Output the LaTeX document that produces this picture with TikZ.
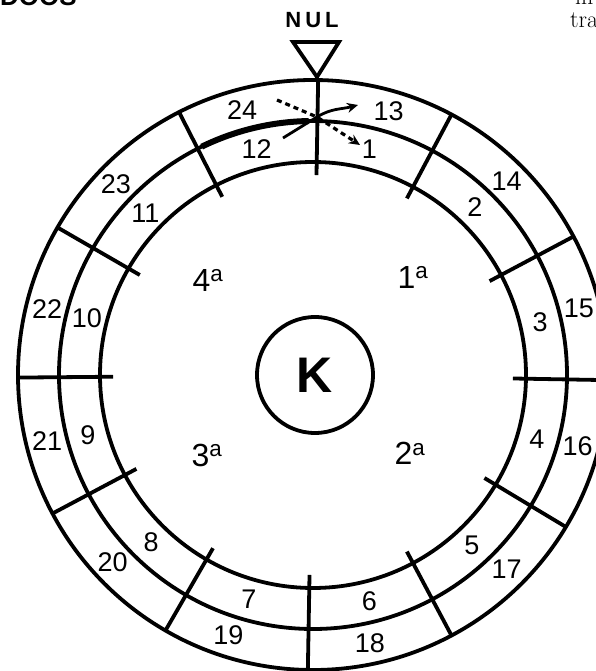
\documentclass[tikz,border=0pt]{standalone}
\usepackage{fontspec}
\setsansfont{Liberation Sans}
\usetikzlibrary{arrows.meta}

\begin{document}
\begin{tikzpicture}[>=Stealth,x=1pt,y=1pt,
  ring/.style={line width=3.8pt},
  num/.style={font=\sffamily\fontsize{27}{27}\selectfont},
  kwart/.style={font=\sffamily\fontsize{32}{32}\selectfont},
  pagina/.style={anchor=base west,inner sep=0pt,font=\fontsize{24}{24}\selectfont},
  pijl/.style={->,line width=2.8pt,>={Stealth[length=11pt,width=10pt]}},
  stippel/.style={->,line width=3.2pt,dash pattern=on 5pt off 4pt,>={Stealth[length=11pt,width=10pt]}}]
  \useasboundingbox (-313,-296) rectangle (283,375);
  \node[pagina,font=\sffamily\bfseries\fontsize{26}{26}\selectfont] (kop) at (-313,369) {DOOS};
  \node[pagina] (regel1) at (262,370) {in};
  \node[pagina] (regel2) at (257,347) {tra};
  \foreach \r in {213,254,295} \draw[ring] (0,0) circle (\r pt);
  \draw[line width=6pt] (116:254pt) arc (116:91:254pt);
  \foreach \a in {89,62,28,-1,-31,-62,-91,-120,-152,180.5,150,117} \draw[ring] (\a:200pt) -- (\a:295pt);
  \foreach \n/\a in {1/76,2/46,3/13,4/-16,5/-47,6/-76,7/-106,8/-134,9/-165,10/166,11/136,12/104}
    \node[num] (n\n) at (\a:233pt) {\n};
  \foreach \n/\a in {13/74,14/45,15/14,16/-15,17/-45,18/-78,19/-108,20/-137,21/-166,22/166,23/136,24/105}
    \node[num] (n\n) at (\a:274pt) {\n};
  \node[kwart] (q1) at (100,98) {1\textsuperscript{a}};
  \node[kwart] (q2) at (97,-78) {2\textsuperscript{a}};
  \node[kwart] (q3) at (-106,-80) {3\textsuperscript{a}};
  \node[kwart] (q4) at (-105,95) {4\textsuperscript{a}};
  \node[draw,circle,ring,minimum size=116pt,inner sep=0pt,font=\sffamily\bfseries\fontsize{50}{50}\selectfont] (k) at (2,0) {K};
  \draw[ring] (-20,333) -- (26,333) -- (4,298) -- cycle;
  \node[font=\sffamily\bfseries\fontsize{22}{22}\selectfont] (nul) at (-1,355) {N\kern4pt U\kern4pt L};
  \coordinate (kruis) at (4,258);
  \coordinate (van24) at (-36,275);
  \coordinate (van12) at (-30,237);
  \coordinate (naar13) at (45,270);
  \coordinate (naar1) at (47,230);
  \draw[pijl] (van12) -- (kruis) to[out=32,in=195] (naar13);
  \draw[stippel] (van24) -- (kruis) -- (naar1);
\end{tikzpicture}
\end{document}
